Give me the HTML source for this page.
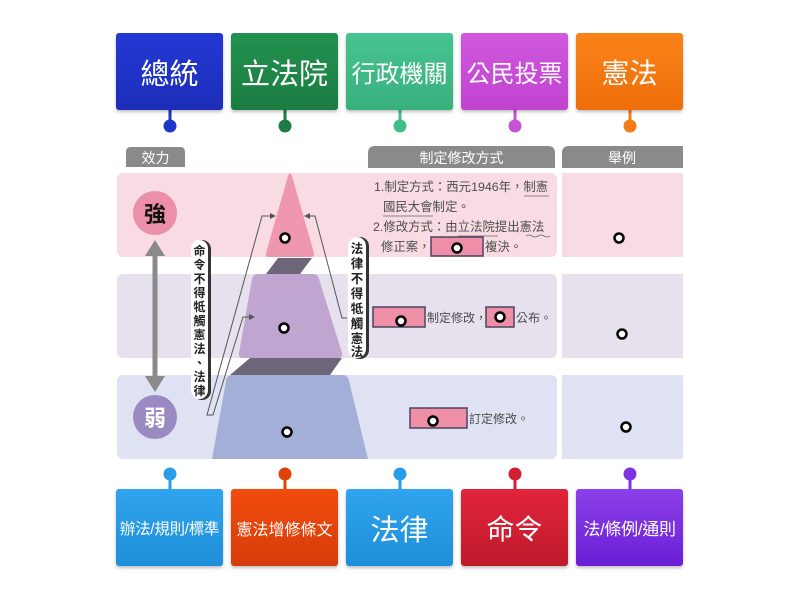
<!DOCTYPE html>
<html><head><meta charset="utf-8"><style>
*{margin:0;padding:0;box-sizing:border-box}
body{width:800px;height:600px;background:#fff;position:relative;overflow:hidden;font-family:"Liberation Sans","Noto Sans CJK TC",sans-serif}
.t{position:absolute;width:107px;height:77px;border-radius:3px;color:#fff;display:flex;align-items:center;justify-content:center;box-shadow:0 2px 3px rgba(0,0,0,.25);white-space:nowrap}
svg{position:absolute;left:0;top:0}
</style></head><body>
<svg width="800" height="600" viewBox="0 0 800 600" font-family="Liberation Sans, Noto Sans CJK TC, sans-serif">
<!-- stems -->
<g stroke-width="3">
<line x1="170" y1="110" x2="170" y2="125" stroke="#1f35c7"/>
<line x1="285" y1="110" x2="285" y2="125" stroke="#1e7d45"/>
<line x1="400" y1="110" x2="400" y2="125" stroke="#40bf8a"/>
<line x1="515" y1="110" x2="515" y2="125" stroke="#c653d6"/>
<line x1="630" y1="110" x2="630" y2="125" stroke="#f57b14"/>
<line x1="170" y1="474" x2="170" y2="489" stroke="#2a9de8"/>
<line x1="285" y1="474" x2="285" y2="489" stroke="#e0400c"/>
<line x1="400" y1="474" x2="400" y2="489" stroke="#2a9de8"/>
<line x1="515" y1="474" x2="515" y2="489" stroke="#d41f33"/>
<line x1="630" y1="474" x2="630" y2="489" stroke="#7d33e0"/>
</g>
<circle cx="170" cy="126" r="6.5" fill="#1f35c7"/>
<circle cx="285" cy="126" r="6.5" fill="#1e7d45"/>
<circle cx="400" cy="126" r="6.5" fill="#40bf8a"/>
<circle cx="515" cy="126" r="6.5" fill="#c653d6"/>
<circle cx="630" cy="126" r="6.5" fill="#f57b14"/>
<circle cx="170" cy="474" r="6.5" fill="#2a9de8"/>
<circle cx="285" cy="474" r="6.5" fill="#e0400c"/>
<circle cx="400" cy="474" r="6.5" fill="#2a9de8"/>
<circle cx="515" cy="474" r="6.5" fill="#d41f33"/>
<circle cx="630" cy="474" r="6.5" fill="#7d33e0"/>

<!-- headers -->
<path d="M126 167 V152 Q126 147 131 147 H180 Q185 147 185 152 V167 Z" fill="#8a8a8a"/>
<text x="155.5" y="163" font-size="14" fill="#fff" text-anchor="middle">效力</text>
<path d="M368 168 V153 Q368 146 375 146 H548 Q555 146 555 153 V168 Z" fill="#8a8a8a"/>
<text x="461.5" y="163" font-size="14" fill="#fff" text-anchor="middle">制定修改方式</text>
<path d="M562 168 V153 Q562 146 569 146 H683 V168 Z" fill="#8a8a8a"/>
<text x="622" y="163" font-size="14" fill="#fff" text-anchor="middle">舉例</text>

<!-- bands -->
<rect x="117" y="173" width="440" height="84" rx="6" fill="#f9dce3"/>
<rect x="117" y="274" width="440" height="84" rx="6" fill="#e7e0ed"/>
<rect x="117" y="375" width="440" height="84" rx="6" fill="#dfe2f2"/>
<rect x="562" y="173" width="121" height="84" fill="#f9dce3"/>
<rect x="562" y="274" width="121" height="84" fill="#e7e0ed"/>
<rect x="562" y="375" width="121" height="84" fill="#dfe2f2"/>

<!-- pyramid -->
<polygon points="278,258 312,258 300,274 266,274" fill="#6d6679"/>
<polygon points="250,358 342,358 330,375 230,375" fill="#6d6679"/>
<path d="M288 176 Q290 171 292 176 L314 253 Q315 257 311 257 H269 Q265 257 266 253 Z" fill="#ee97ae"/>
<path d="M258 274 H313 Q318 274 319 279 L342 353 Q343 358 338 358 H243 Q238 358 239 353 L252 279 Q253 274 258 274 Z" fill="#bfa5d0"/>
<path d="M232 375 H342 Q348 375 349 381 L368 459 H212 L226 381 Q227 375 232 375 Z" fill="#a3afd6"/>

<!-- strength circles -->
<circle cx="155" cy="213" r="22" fill="#ec8fa8"/>
<text x="155" y="222" font-size="22" font-weight="bold" fill="#111" text-anchor="middle">強</text>
<circle cx="155" cy="417" r="22" fill="#9b8ac2"/>
<text x="155" y="426" font-size="22" font-weight="bold" fill="#fff" text-anchor="middle">弱</text>
<line x1="155" y1="252" x2="155" y2="378" stroke="#8a8a8a" stroke-width="5"/>
<polygon points="155,240 145,256 165,256" fill="#8a8a8a"/>
<polygon points="155,392 145,376 165,376" fill="#8a8a8a"/>

<!-- connector lines -->
<g stroke="#555" stroke-width="1" fill="none">
<polyline points="213,415 207,415 262,216 273,216"/>
<polyline points="207,415 213,415 243,317 252,317"/>
<polyline points="347,318 342,318 315,216 307,216"/>
</g>
<polygon points="276,216 270,213 270,219" fill="#555"/>
<polygon points="255,317 249,314 249,320" fill="#555"/>
<polygon points="304,216 310,213 310,219" fill="#555"/>

<!-- vertical labels -->
<rect x="193" y="240" width="18" height="160" rx="9" fill="#333"/>
<rect x="191" y="240" width="17" height="159" rx="8.5" fill="#fff"/>
<text font-size="12" font-weight="bold" fill="#222" text-anchor="middle">
<tspan x="199.5" y="255">命</tspan><tspan x="199.5" y="269">令</tspan><tspan x="199.5" y="283">不</tspan><tspan x="199.5" y="297">得</tspan><tspan x="199.5" y="311">牴</tspan><tspan x="199.5" y="325">觸</tspan><tspan x="199.5" y="339">憲</tspan><tspan x="199.5" y="353">法</tspan><tspan x="199.5" y="367">、</tspan><tspan x="199.5" y="381">法</tspan><tspan x="199.5" y="395">律</tspan>
</text>
<rect x="350" y="237" width="19" height="122" rx="9" fill="#333"/>
<rect x="348" y="237" width="18" height="121" rx="9" fill="#fff"/>
<text font-size="12.5" font-weight="bold" fill="#222" text-anchor="middle">
<tspan x="357" y="253">法</tspan><tspan x="357" y="268">律</tspan><tspan x="357" y="283">不</tspan><tspan x="357" y="298">得</tspan><tspan x="357" y="313">牴</tspan><tspan x="357" y="328">觸</tspan><tspan x="357" y="343">憲</tspan><tspan x="357" y="356">法</tspan>
</text>

<!-- middle text -->
<g font-size="12.4" fill="#4d4d4d">
<text x="374" y="191">1.制定方式：西元1946年，制憲</text>
<text x="383" y="211">國民大會制定。</text>
<text x="373" y="231">2.修改方式：由立法院提出憲法</text>
<text x="381" y="251">修正案，</text>
<text x="485" y="251">複決。</text>
</g>
<g font-size="12" fill="#4d4d4d">
<text x="427" y="322">制定修改，</text>
<text x="516" y="322">公布。</text>
<text x="469" y="423">訂定修改。</text>
</g>
<g stroke="#666" stroke-width="0.8">
<line x1="524" y1="196" x2="549" y2="196"/>
<line x1="383" y1="216" x2="433" y2="216"/>
<line x1="458" y1="236" x2="498" y2="236"/>
</g>
<path d="M526 236 q3 -2 6 0 t6 0 t6 0 t6 0" stroke="#666" stroke-width="0.8" fill="none"/>

<!-- pink boxes -->
<g fill="#ef8fa7" stroke="#4a4462" stroke-width="1.5">
<rect x="431" y="237" width="52" height="19"/>
<rect x="373" y="307" width="52" height="20"/>
<rect x="486" y="307" width="28" height="20"/>
<rect x="410" y="408" width="57" height="20"/>
</g>

<!-- white dots -->
<g fill="#fff" stroke="#000" stroke-width="2.5">
<circle cx="457" cy="248" r="4.5"/>
<circle cx="401" cy="321" r="4.5"/>
<circle cx="500" cy="317" r="4.5"/>
<circle cx="433" cy="421" r="4.5"/>
<circle cx="285" cy="238" r="4.5"/>
<circle cx="284" cy="328" r="4.5"/>
<circle cx="287" cy="432" r="4.5"/>
<circle cx="619" cy="238" r="4.5"/>
<circle cx="622" cy="334" r="4.5"/>
<circle cx="626" cy="427" r="4.5"/>
</g>
</svg>

<!-- top tiles -->
<div class="t" style="left:116px;top:33px;background:linear-gradient(#2339d4,#1c2db8);font-size:29px">總統</div>
<div class="t" style="left:231px;top:33px;background:linear-gradient(#23924f,#1b7c42);font-size:29px">立法院</div>
<div class="t" style="left:346px;top:33px;background:linear-gradient(#47c490,#38b07d);font-size:24px">行政機關</div>
<div class="t" style="left:461px;top:33px;background:linear-gradient(#d058de,#c043d0);font-size:24px">公民投票</div>
<div class="t" style="left:576px;top:33px;background:linear-gradient(#fa8419,#ee6d09);font-size:28px">憲法</div>
<!-- bottom tiles -->
<div class="t" style="left:116px;top:489px;background:linear-gradient(#30a4ef,#1e8fd8);font-size:15.5px;letter-spacing:-0.3px">辦法/規則/標準</div>
<div class="t" style="left:231px;top:489px;background:linear-gradient(#f24c0b,#d63c0b);font-size:16px">憲法增修條文</div>
<div class="t" style="left:346px;top:489px;background:linear-gradient(#30a4ef,#1e8fd8);font-size:29px">法律</div>
<div class="t" style="left:461px;top:489px;background:linear-gradient(#e2243a,#bf1a2c);font-size:28px">命令</div>
<div class="t" style="left:576px;top:489px;background:linear-gradient(#8c40ea,#6a1fd6);font-size:17px;letter-spacing:-0.3px">法/條例/通則</div>
</body></html>
